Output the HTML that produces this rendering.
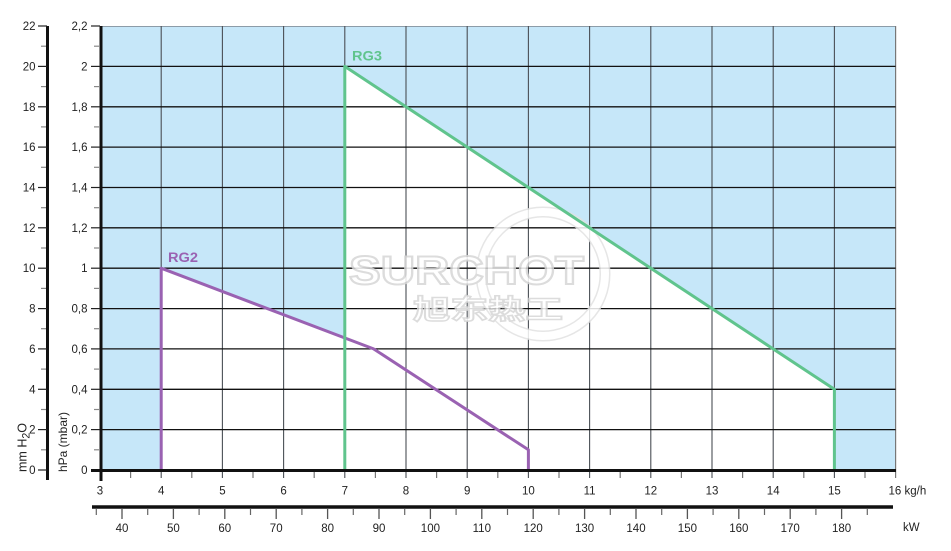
<!DOCTYPE html>
<html><head><meta charset="utf-8"><style>
html,body{margin:0;padding:0;background:#fff;}
svg{display:block;}
text{font-family:"Liberation Sans","Noto Sans CJK SC",sans-serif;fill:#222;}
</style></head><body>
<svg width="951" height="551" viewBox="0 0 951 551" xmlns="http://www.w3.org/2000/svg">
<!-- plot background -->
<rect x="100" y="26" width="795.6" height="444" fill="#c6e7f9"/>
<polygon points="161.2,470 161.2,268.2 373.6,348.9 528.4,449.8 528.4,470" fill="#fff"/>
<polygon points="344.8,470 344.8,66.4 834.4,389.3 834.4,470" fill="#fff"/>
<!-- border top/right -->
<line x1="100" y1="26.5" x2="895.6" y2="26.5" stroke="#8c9ca8" stroke-width="1"/>
<line x1="895.6" y1="26" x2="895.6" y2="478" stroke="#777" stroke-width="1.2"/>
<!-- vertical grid -->
<g stroke="#4a4f55" stroke-width="1.1">
<line x1="161.2" y1="26" x2="161.2" y2="478"/>
<line x1="222.4" y1="26" x2="222.4" y2="478"/>
<line x1="283.6" y1="26" x2="283.6" y2="478"/>
<line x1="344.8" y1="26" x2="344.8" y2="478"/>
<line x1="406" y1="26" x2="406" y2="478"/>
<line x1="467.2" y1="26" x2="467.2" y2="478"/>
<line x1="528.4" y1="26" x2="528.4" y2="478"/>
<line x1="589.6" y1="26" x2="589.6" y2="478"/>
<line x1="650.8" y1="26" x2="650.8" y2="478"/>
<line x1="712" y1="26" x2="712" y2="478"/>
<line x1="773.2" y1="26" x2="773.2" y2="478"/>
<line x1="834.4" y1="26" x2="834.4" y2="478"/>
</g>
<!-- horizontal grid -->
<g stroke="#111" stroke-width="1.3">
<line x1="100" y1="429.6" x2="895.6" y2="429.6"/>
<line x1="100" y1="389.3" x2="895.6" y2="389.3"/>
<line x1="100" y1="348.9" x2="895.6" y2="348.9"/>
<line x1="100" y1="308.6" x2="895.6" y2="308.6"/>
<line x1="100" y1="268.2" x2="895.6" y2="268.2"/>
<line x1="100" y1="227.8" x2="895.6" y2="227.8"/>
<line x1="100" y1="187.5" x2="895.6" y2="187.5"/>
<line x1="100" y1="147.1" x2="895.6" y2="147.1"/>
<line x1="100" y1="106.8" x2="895.6" y2="106.8"/>
<line x1="100" y1="66.4" x2="895.6" y2="66.4"/>
</g>
<!-- watermark -->
<g opacity="0.85">
<circle cx="543" cy="274" r="62" fill="none" stroke="#e2e2e2" stroke-width="11"/>
<circle cx="543" cy="274" r="62" fill="none" stroke="#fff" stroke-width="8"/>
<text x="349" y="284" font-size="40" font-weight="bold" textLength="235" lengthAdjust="spacingAndGlyphs" style="fill:#fff;stroke:#d6d6d6;stroke-width:2">SURCHOT</text>
<text x="413" y="319" font-size="27" font-weight="bold" textLength="150" lengthAdjust="spacingAndGlyphs" style="font-family:'Noto Sans CJK SC',sans-serif;fill:#fff;stroke:#d6d6d6;stroke-width:1.5">旭东热工</text>
</g>
<!-- series -->
<polyline points="161.2,470 161.2,268.2 373.6,348.9 528.4,449.8 528.4,470" fill="none" stroke="#9a62b2" stroke-width="3" stroke-linejoin="round"/>
<polyline points="344.8,470 344.8,66.4 834.4,389.3 834.4,470" fill="none" stroke="#60c48d" stroke-width="3" stroke-linejoin="round"/>
<text x="352" y="60.5" font-size="13.5" font-weight="bold" textLength="30" lengthAdjust="spacingAndGlyphs" style="fill:#60c48d">RG3</text>
<text x="168" y="262" font-size="13.5" font-weight="bold" textLength="30" lengthAdjust="spacingAndGlyphs" style="fill:#9a62b2">RG2</text>

<!-- left axis mm H2O -->
<line x1="47.5" y1="26" x2="47.5" y2="480" stroke="#111" stroke-width="3"/>
<g stroke="#222" stroke-width="1.2">
<line x1="38" y1="470" x2="47" y2="470"/><line x1="38" y1="429.6" x2="47" y2="429.6"/><line x1="38" y1="389.3" x2="47" y2="389.3"/><line x1="38" y1="348.9" x2="47" y2="348.9"/><line x1="38" y1="308.6" x2="47" y2="308.6"/><line x1="38" y1="268.2" x2="47" y2="268.2"/><line x1="38" y1="227.8" x2="47" y2="227.8"/><line x1="38" y1="187.5" x2="47" y2="187.5"/><line x1="38" y1="147.1" x2="47" y2="147.1"/><line x1="38" y1="106.8" x2="47" y2="106.8"/><line x1="38" y1="66.4" x2="47" y2="66.4"/><line x1="38" y1="26" x2="47" y2="26"/>
</g>
<g stroke="#888" stroke-width="1.2">
<line x1="41" y1="449.8" x2="46" y2="449.8"/><line x1="41" y1="409.5" x2="46" y2="409.5"/><line x1="41" y1="369.1" x2="46" y2="369.1"/><line x1="41" y1="328.7" x2="46" y2="328.7"/><line x1="41" y1="288.4" x2="46" y2="288.4"/><line x1="41" y1="248" x2="46" y2="248"/><line x1="41" y1="207.7" x2="46" y2="207.7"/><line x1="41" y1="167.3" x2="46" y2="167.3"/><line x1="41" y1="126.9" x2="46" y2="126.9"/><line x1="41" y1="86.6" x2="46" y2="86.6"/><line x1="41" y1="46.2" x2="46" y2="46.2"/>
</g>
<g font-size="11.5" text-anchor="end">
<text x="35.5" y="474">0</text><text x="35.5" y="433.6">2</text><text x="35.5" y="393.3">4</text><text x="35.5" y="352.9">6</text><text x="35.5" y="312.6">8</text><text x="35.5" y="272.2">10</text><text x="35.5" y="231.8">12</text><text x="35.5" y="191.5">14</text><text x="35.5" y="151.1">16</text><text x="35.5" y="110.8">18</text><text x="35.5" y="70.4">20</text><text x="35.5" y="30">22</text>
</g>

<!-- second axis hPa -->
<line x1="101" y1="26" x2="101" y2="481" stroke="#111" stroke-width="3"/>
<g stroke="#222" stroke-width="1.2">
<line x1="91" y1="470" x2="100" y2="470"/><line x1="91" y1="429.6" x2="100" y2="429.6"/><line x1="91" y1="389.3" x2="100" y2="389.3"/><line x1="91" y1="348.9" x2="100" y2="348.9"/><line x1="91" y1="308.6" x2="100" y2="308.6"/><line x1="91" y1="268.2" x2="100" y2="268.2"/><line x1="91" y1="227.8" x2="100" y2="227.8"/><line x1="91" y1="187.5" x2="100" y2="187.5"/><line x1="91" y1="147.1" x2="100" y2="147.1"/><line x1="91" y1="106.8" x2="100" y2="106.8"/><line x1="91" y1="66.4" x2="100" y2="66.4"/><line x1="91" y1="26" x2="100" y2="26"/>
</g>
<g stroke="#888" stroke-width="1.2">
<line x1="94" y1="449.8" x2="99" y2="449.8"/><line x1="94" y1="409.5" x2="99" y2="409.5"/><line x1="94" y1="369.1" x2="99" y2="369.1"/><line x1="94" y1="328.7" x2="99" y2="328.7"/><line x1="94" y1="288.4" x2="99" y2="288.4"/><line x1="94" y1="248" x2="99" y2="248"/><line x1="94" y1="207.7" x2="99" y2="207.7"/><line x1="94" y1="167.3" x2="99" y2="167.3"/><line x1="94" y1="126.9" x2="99" y2="126.9"/><line x1="94" y1="86.6" x2="99" y2="86.6"/><line x1="94" y1="46.2" x2="99" y2="46.2"/>
</g>
<g font-size="11.5" text-anchor="end">
<text x="87.5" y="474">0</text><text x="87.5" y="433.6">0,2</text><text x="87.5" y="393.3">0,4</text><text x="87.5" y="352.9">0,6</text><text x="87.5" y="312.6">0,8</text><text x="87.5" y="272.2">1</text><text x="87.5" y="231.8">1,2</text><text x="87.5" y="191.5">1,4</text><text x="87.5" y="151.1">1,6</text><text x="87.5" y="110.8">1,8</text><text x="87.5" y="70.4">2</text><text x="87.5" y="30">2,2</text>
</g>

<!-- axis titles -->
<text transform="translate(26.5,447.5) rotate(-90)" font-size="13" text-anchor="middle" textLength="49" lengthAdjust="spacingAndGlyphs">mm H<tspan font-size="11" dy="3">2</tspan><tspan dy="-3">O</tspan></text>
<text transform="translate(67,442) rotate(-90)" font-size="12" text-anchor="middle" textLength="60" lengthAdjust="spacingAndGlyphs">hPa (mbar)</text>

<!-- x axis kg/h -->
<line x1="91" y1="470.5" x2="896" y2="470.5" stroke="#111" stroke-width="3"/>
<g stroke="#777" stroke-width="1.2">
<line x1="130.6" y1="472" x2="130.6" y2="478"/><line x1="191.8" y1="472" x2="191.8" y2="478"/><line x1="253" y1="472" x2="253" y2="478"/><line x1="314.2" y1="472" x2="314.2" y2="478"/><line x1="375.4" y1="472" x2="375.4" y2="478"/><line x1="436.6" y1="472" x2="436.6" y2="478"/><line x1="497.8" y1="472" x2="497.8" y2="478"/><line x1="559" y1="472" x2="559" y2="478"/><line x1="620.2" y1="472" x2="620.2" y2="478"/><line x1="681.4" y1="472" x2="681.4" y2="478"/><line x1="742.6" y1="472" x2="742.6" y2="478"/><line x1="803.8" y1="472" x2="803.8" y2="478"/><line x1="865" y1="472" x2="865" y2="478"/>
</g>
<g font-size="11.5" text-anchor="middle">
<text x="100" y="494.5">3</text><text x="161.2" y="494.5">4</text><text x="222.4" y="494.5">5</text><text x="283.6" y="494.5">6</text><text x="344.8" y="494.5">7</text><text x="406" y="494.5">8</text><text x="467.2" y="494.5">9</text><text x="528.4" y="494.5">10</text><text x="589.6" y="494.5">11</text><text x="650.8" y="494.5">12</text><text x="712" y="494.5">13</text><text x="773.2" y="494.5">14</text><text x="834.4" y="494.5">15</text>
</g>
<text x="888.5" y="494.5" font-size="11.5">16 kg/h</text>

<!-- kW axis -->
<line x1="92" y1="507" x2="893" y2="507" stroke="#111" stroke-width="3.5"/>
<g stroke="#555" stroke-width="1.3">
<line x1="122" y1="509" x2="122" y2="519"/><line x1="173.4" y1="509" x2="173.4" y2="519"/><line x1="224.8" y1="509" x2="224.8" y2="519"/><line x1="276.2" y1="509" x2="276.2" y2="519"/><line x1="327.6" y1="509" x2="327.6" y2="519"/><line x1="379" y1="509" x2="379" y2="519"/><line x1="430.4" y1="509" x2="430.4" y2="519"/><line x1="481.8" y1="509" x2="481.8" y2="519"/><line x1="533.2" y1="509" x2="533.2" y2="519"/><line x1="584.6" y1="509" x2="584.6" y2="519"/><line x1="636" y1="509" x2="636" y2="519"/><line x1="687.4" y1="509" x2="687.4" y2="519"/><line x1="738.8" y1="509" x2="738.8" y2="519"/><line x1="790.2" y1="509" x2="790.2" y2="519"/><line x1="841.6" y1="509" x2="841.6" y2="519"/>
</g>
<g stroke="#666" stroke-width="1.2">
<line x1="96.3" y1="509" x2="96.3" y2="515"/><line x1="147.7" y1="509" x2="147.7" y2="515"/><line x1="199.1" y1="509" x2="199.1" y2="515"/><line x1="250.5" y1="509" x2="250.5" y2="515"/><line x1="301.9" y1="509" x2="301.9" y2="515"/><line x1="353.3" y1="509" x2="353.3" y2="515"/><line x1="404.7" y1="509" x2="404.7" y2="515"/><line x1="456.1" y1="509" x2="456.1" y2="515"/><line x1="507.5" y1="509" x2="507.5" y2="515"/><line x1="558.9" y1="509" x2="558.9" y2="515"/><line x1="610.3" y1="509" x2="610.3" y2="515"/><line x1="661.7" y1="509" x2="661.7" y2="515"/><line x1="713.1" y1="509" x2="713.1" y2="515"/><line x1="764.5" y1="509" x2="764.5" y2="515"/><line x1="815.9" y1="509" x2="815.9" y2="515"/><line x1="867.3" y1="509" x2="867.3" y2="515"/>
</g>
<g font-size="11.5" text-anchor="middle">
<text x="122" y="532">40</text><text x="173.4" y="532">50</text><text x="224.8" y="532">60</text><text x="276.2" y="532">70</text><text x="327.6" y="532">80</text><text x="379" y="532">90</text><text x="430.4" y="532">100</text><text x="481.8" y="532">110</text><text x="533.2" y="532">120</text><text x="584.6" y="532">130</text><text x="636" y="532">140</text><text x="687.4" y="532">150</text><text x="738.8" y="532">160</text><text x="790.2" y="532">170</text><text x="841.6" y="532">180</text>
</g>
<text x="903" y="531" font-size="11.5">kW</text>
</svg>
</body></html>
